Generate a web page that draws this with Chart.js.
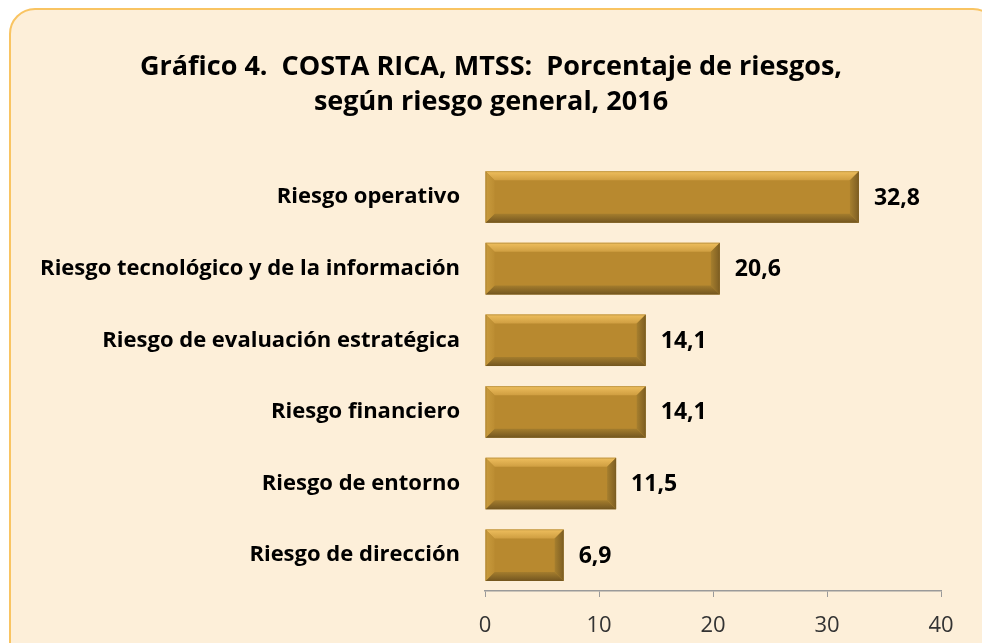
<!DOCTYPE html>
<html>
<head>
<meta charset="utf-8">
<script src="https://cdn.jsdelivr.net/npm/chart.js@4"></script>
<style>
  html, body { margin:0; padding:0; background:#ffffff; overflow:hidden; }
  #frame {
    position:absolute; left:9px; top:8px; width:990px; height:680px;
    box-sizing:border-box;
    border:2px solid #f9c462; border-radius:26px; background:#fdefd9;
  }
  #wrap { position:absolute; left:0; top:0; width:982px; height:643px; }
</style>
</head>
<body>
<div id="frame"></div>
<div id="wrap"><canvas id="chart"></canvas></div>
<script>
const titleLines = ["Gráfico 4.  COSTA RICA, MTSS:  Porcentaje de riesgos,", "según riesgo general, 2016"];
const categories = [
    "Riesgo operativo",
    "Riesgo tecnológico y de la información",
    "Riesgo de evaluación estratégica",
    "Riesgo financiero",
    "Riesgo de entorno",
    "Riesgo de dirección"
];
const values = [32.8, 20.6, 14.1, 14.1, 11.5, 6.9];
const xTicks = [0, 10, 20, 30, 40];

const FONT = "'Open Sans', Lato, sans-serif";

// bevelled gold bars + value labels
const bevelPlugin = {
    id: "bevel",
    afterDatasetsDraw(chart) {
        const c = chart.ctx;
        const meta = chart.getDatasetMeta(0);
        meta.data.forEach((bar, i) => {
            const l = bar.base, r = bar.x;
            const t = bar.y - bar.height/2, b = bar.y + bar.height/2;
            const d = Math.min(9, (r-l)/2);
            c.save();
            // top
            let g = c.createLinearGradient(0, t, 0, t+d);
            g.addColorStop(0, "#efbf5e");
            g.addColorStop(1, "#cf9e41");
            c.fillStyle = g;
            c.beginPath(); c.moveTo(l,t); c.lineTo(r,t); c.lineTo(r-d,t+d); c.lineTo(l+d,t+d); c.closePath(); c.fill();
            // bottom
            g = c.createLinearGradient(0, b-d, 0, b);
            g.addColorStop(0, "#a47d2d");
            g.addColorStop(1, "#735620");
            c.fillStyle = g;
            c.beginPath(); c.moveTo(l,b); c.lineTo(r,b); c.lineTo(r-d,b-d); c.lineTo(l+d,b-d); c.closePath(); c.fill();
            // left
            g = c.createLinearGradient(l, 0, l+d, 0);
            g.addColorStop(0, "#c99b3d");
            g.addColorStop(1, "#bc8d32");
            c.fillStyle = g;
            c.beginPath(); c.moveTo(l,t); c.lineTo(l+d,t+d); c.lineTo(l+d,b-d); c.lineTo(l,b); c.closePath(); c.fill();
            // right
            g = c.createLinearGradient(r-d, 0, r, 0);
            g.addColorStop(0, "#a67f2e");
            g.addColorStop(1, "#7d5d22");
            c.fillStyle = g;
            c.beginPath(); c.moveTo(r,t); c.lineTo(r-d,t+d); c.lineTo(r-d,b-d); c.lineTo(r,b); c.closePath(); c.fill();
            c.strokeStyle = "rgba(120,90,30,0.3)";
            c.lineWidth = 1;
            c.strokeRect(l+0.5, t+0.5, r-l-1, b-t-1);
            // value label
            c.fillStyle = "#000";
            c.font = "bold 23px " + FONT;
            c.textAlign = "left";
            c.textBaseline = "middle";
            c.fillText(values[i].toFixed(1).replace(".", ","), r + 15, bar.y + 1);
            c.restore();
        });
    }
};

new Chart(document.getElementById("chart"), {
    type: "bar",
    data: {
        labels: categories,
        datasets: [{
            data: values,
            backgroundColor: "#b8892f",
            borderWidth: 0,
            barPercentage: 0.72,
            categoryPercentage: 1
        }]
    },
    options: {
        indexAxis: "y",
        responsive: true,
        maintainAspectRatio: false,
        animation: false,
        layout: { padding: { left: 41, right: 41, top: 0, bottom: 0 } },
        plugins: {
            legend: { display: false },
            tooltip: { enabled: false },
            title: {
                display: true,
                text: titleLines,
                color: "#000",
                font: { family: FONT, size: 27, weight: "bold", lineHeight: 1.3 },
                padding: { top: 50, bottom: 41 }
            }
        },
        scales: {
            x: {
                min: 0,
                max: 40,
                afterBuildTicks(s) { s.ticks = xTicks.map(v => ({ value: v })); },
                afterFit(s) { s.height = 52; },
                ticks: { color: "#333", font: { family: FONT, size: 22 }, padding: 16 },
                grid: { drawOnChartArea: false, drawTicks: true, tickLength: 6, color: "#9a9a9a" },
                border: { display: true, color: "#9a9a9a", width: 1.5 }
            },
            y: {
                afterFit(s) { s.width = 444; },
                ticks: { color: "#000", font: { family: FONT, size: 22, weight: "bold" }, padding: 25 },
                grid: { display: false, drawTicks: false },
                border: { display: false }
            }
        }
    },
    plugins: [bevelPlugin]
});
</script>
</body>
</html>
